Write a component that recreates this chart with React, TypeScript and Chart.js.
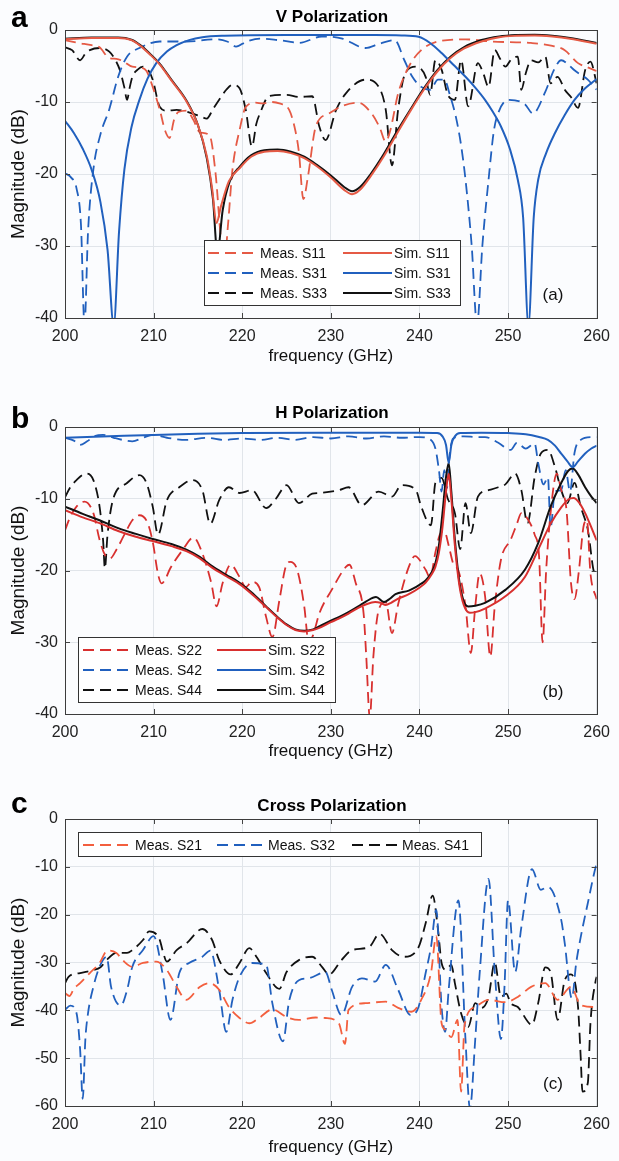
import React, { useEffect, useRef } from 'react';
import { Chart, registerables } from 'chart.js';

Chart.register(...registerables);

type Pt = [number, number];

// ---------- axis ticks ----------
const FREQ_TICKS = [200, 210, 220, 230, 240, 250, 260];
const DB_TICKS_AB = [0, -10, -20, -30, -40];
const DB_TICKS_C = [0, -10, -20, -30, -40, -50, -60];

// ---------- panel a : V polarization ----------
const measS11: Pt[] = [[200,-1.4],[201.5,-1.8],[203,-2.1],[203.9,-2.4],[205,-3.9],[205.8,-4],[206.5,-4.3],[207.6,-5.1],[208.5,-5.2],[209.2,-5.7],[209.9,-7.9],[210.7,-11.1],[211.3,-14],[211.8,-15],[212.3,-12.5],[212.8,-11.4],[213.7,-11.2],[214.5,-12.5],[215.2,-14.2],[216.3,-14.6],[217,-20],[217.6,-29],[218,-32],[218.4,-27],[218.9,-19.4],[219.7,-13.9],[220.4,-10.7],[221.5,-10.1],[222.3,-10.2],[223.3,-10],[224.2,-10.2],[225.3,-11.1],[226,-14],[226.4,-17],[226.9,-23.5],[227.4,-20.5],[228.3,-13.4],[229.8,-11.6],[231.2,-10.6],[233.1,-10.1],[234.6,-11.6],[235.5,-13.5],[236.2,-15.5],[236.7,-14],[237.6,-8.8],[238.8,-5.1],[240.2,-2.8],[242.1,-1.6],[245.2,-1.3],[248.1,-1.6],[252.6,-1.8],[255,-2.2],[256.4,-2.8],[257.9,-4.6],[259,-5.2],[260,-5.7]];
const measS31: Pt[] = [[200,-19.9],[200.7,-20.5],[201.3,-22],[201.8,-27],[202.2,-41],[202.6,-28],[203.2,-19.4],[204,-14.5],[205,-11],[206,-6.5],[207,-3.7],[208.4,-2.5],[210.7,-1.6],[213.7,-1.6],[217,-1.3],[218.3,-1.6],[219.3,-2.3],[220.5,-1.6],[222,-1.2],[224,-1.4],[225.3,-1.6],[226.4,-1.8],[229,-0.9],[231.3,-1.2],[233.9,-2.5],[235.5,-1.9],[237.2,-1.4],[238.3,-4.2],[239.2,-6.5],[240.2,-7.9],[241.2,-8.3],[242.1,-6.9],[242.8,-6.9],[243.5,-9.3],[244.1,-12],[244.7,-16],[245.2,-20.8],[245.9,-30],[246.5,-41],[247.1,-30],[247.8,-20.8],[248.4,-14],[248.9,-11.5],[250,-9.7],[251.9,-10.3],[252.8,-11.6],[254.2,-8.6],[255.2,-5.5],[256,-4.2],[256.8,-4.8],[257.5,-5.6],[259,-6.9],[260,-8.3]];
const measS33: Pt[] = [[200,-2.4],[200.8,-2.8],[201.7,-4.2],[202.3,-3.3],[202.8,-2.8],[203.9,-2.5],[205,-3],[205.7,-4.2],[206.2,-5.6],[206.7,-8],[207,-9.7],[207.3,-8],[207.6,-6.5],[208.2,-5.5],[208.8,-5.1],[209.4,-5.6],[209.9,-6.9],[210.7,-10.7],[211.5,-11.2],[212.6,-11.1],[214.4,-11.6],[215.3,-12],[216,-12.3],[216.7,-11],[217.4,-9.7],[218.2,-8.3],[218.9,-7.6],[219.7,-8.1],[220.4,-11.1],[221.1,-16.2],[221.6,-13],[222,-11.6],[223,-9.2],[225,-9],[226.4,-9.3],[227.9,-9.2],[228.7,-13.4],[229.4,-15.3],[230.6,-11.1],[231.7,-8.8],[233.9,-6.9],[235.4,-7.9],[236.2,-11.1],[236.9,-18.8],[237.6,-11],[238.4,-6],[239.6,-5.1],[240.7,-6.5],[241.2,-9],[241.8,-4.2],[242.5,-5.5],[243.2,-9],[244,-9.7],[244.7,-4.2],[245.5,-10.6],[246.6,-4.6],[247.2,-6],[247.8,-7.9],[248.5,-2.8],[249.1,-4],[249.7,-5.1],[250.4,-4],[251.1,-3.7],[251.5,-8.3],[252,-6],[252.6,-4.2],[253.4,-4.5],[254.2,-3.7],[254.8,-7.4],[255.6,-6.5],[256.4,-8.3],[257.1,-9.3],[257.9,-10.8],[258.7,-5.6],[259.3,-4.4],[260,-7.4]];
const simS11: Pt[] = [[200,-1.3],[203,-1.1],[206,-1.1],[207.5,-1.4],[208.5,-2.2],[209.5,-3.3],[210.7,-4.8],[212,-7],[213.7,-9.9],[215,-13.2],[216,-17.5],[216.6,-22],[217.1,-26.8],[217.6,-24.5],[218.5,-21],[219.7,-19.2],[221,-17.6],[222.5,-16.9],[224,-16.8],[225.5,-17.1],[227,-17.8],[228.5,-19],[230,-20.5],[231.5,-22.2],[232.4,-22.8],[233.3,-22.2],[234.5,-20.3],[236,-17.5],[237.5,-14.3],[239,-11.2],[240.5,-8.3],[242,-5.8],[243.5,-3.9],[245,-2.6],[247,-1.6],[249,-1.0],[251,-0.8],[253,-0.75],[255,-0.9],[257,-1.2],[260,-1.9]];
const simS31: Pt[] = [[200,-12.6],[201,-14.3],[202,-16.5],[203,-19.4],[204,-23.9],[204.8,-30.5],[205.5,-41],[206.1,-28],[206.7,-19.4],[207.5,-13.5],[208.4,-9.7],[209.3,-6.8],[210.3,-4.6],[211.5,-3],[212.6,-2.1],[214,-1.4],[215.5,-1.0],[218,-0.8],[225,-0.7],[235,-0.7],[238,-0.75],[239.9,-0.95],[241.2,-1.8],[242.5,-3.2],[243.8,-4.8],[245.2,-6.5],[246.3,-8],[247.4,-9.7],[248.3,-11.4],[249.2,-13.4],[250.2,-16.5],[251.1,-20.8],[251.7,-26],[252.3,-41],[252.9,-26],[253.4,-20.8],[254.3,-17.1],[255.3,-14.3],[256.4,-11.8],[257.5,-9.7],[258.7,-8.1],[260,-6.8]];
const simS33: Pt[] = [[200,-1.2],[203,-1.05],[206,-1.05],[207.5,-1.35],[208.5,-2.1],[209.5,-3.2],[210.7,-4.7],[212,-6.9],[213.7,-9.8],[215,-13.2],[216,-17.8],[216.7,-23.5],[217.2,-31],[217.8,-25],[218.6,-21],[219.7,-19],[221,-17.4],[222.5,-16.7],[224,-16.6],[225.5,-16.9],[227,-17.6],[228.5,-18.8],[230,-20.2],[231.5,-21.8],[232.4,-22.4],[233.3,-21.8],[234.5,-20],[236,-17.2],[237.5,-14],[239,-11],[240.5,-8.1],[242,-5.6],[243.5,-3.7],[245,-2.4],[247,-1.4],[249,-0.9],[251,-0.7],[253,-0.65],[255,-0.8],[257,-1.1],[260,-1.8]];

// ---------- panel b : H polarization ----------
const measS22: Pt[] = [[200,-14.4],[200.6,-12.5],[201.3,-11.1],[202.2,-10.4],[203.2,-12],[203.9,-15.7],[204.5,-17.8],[205.1,-18.3],[205.8,-17.1],[206.7,-15],[207.6,-13],[208.4,-12.3],[209.3,-13.3],[209.9,-16],[210.5,-20.5],[210.9,-21.8],[211.4,-21],[211.8,-19.9],[213.3,-17.1],[214.5,-15.4],[215.5,-17.6],[216.5,-21.7],[217.1,-25],[217.8,-21.7],[218.7,-19.2],[219.7,-20.9],[220.4,-22.3],[221.1,-21.6],[221.9,-22.3],[222.7,-26.5],[223.4,-29.3],[224.2,-24.1],[224.9,-19.5],[225.4,-18.8],[226.2,-19.9],[227,-25],[227.5,-30],[228,-29],[228.7,-26],[230.1,-22.7],[231.7,-19.5],[232.1,-19.2],[232.8,-21.7],[233.7,-26],[234,-32],[234.4,-40.5],[234.8,-32],[235.4,-25.5],[236.2,-24.4],[236.9,-28.7],[237.6,-24.7],[238.8,-19.5],[239.5,-18],[240.7,-19.9],[241.2,-21],[241.8,-17.5],[242.3,-15],[242.8,-14.5],[243.3,-16.5],[243.8,-19],[244.4,-20],[245.2,-25],[245.8,-31.5],[246.3,-25],[246.8,-20.4],[247.4,-23.5],[248,-32],[248.5,-25],[249.2,-18.5],[250.3,-15.7],[251,-13.5],[251.5,-12],[252.3,-13],[253,-15],[253.5,-18],[253.9,-30],[254.3,-20],[254.8,-12],[255.5,-6.5],[256,-8.8],[256.6,-11.6],[257.1,-21.7],[257.5,-24],[258,-20],[258.5,-14],[258.9,-13],[259.3,-20.4],[260,-24]];
const measS42: Pt[] = [[200,-1.5],[201,-1.9],[201.7,-2.5],[202.5,-2],[203.3,-1.3],[204.3,-1.1],[205.5,-1.5],[206.5,-1.8],[207.6,-2.0],[208.8,-1.5],[209.9,-1.1],[211.5,-1.5],[213.7,-1.8],[216,-1.5],[218,-1.8],[220,-1.6],[222,-1.8],[224,-1.5],[226,-1.8],[228,-1.4],[230,-1.6],[232,-1.3],[234,-1.6],[236,-1.3],[238,-1.5],[240,-1.4],[241.3,-1.8],[241.8,-3],[242.2,-6],[242.5,-9],[242.8,-6],[243.1,-8.5],[243.4,-4],[243.8,-1.6],[245,-1.3],[246.5,-1.4],[247.4,-1.4],[248.9,-2.2],[250.3,-3.2],[251,-2.2],[252,-3],[253,-2.3],[253.4,-5],[254,-8],[254.5,-7],[254.8,-14],[255.3,-9],[256,-8.8],[256.5,-6],[257,-9],[257.5,-3.6],[258.2,-1.8],[259.3,-1.4],[260,-1.4]];
const measS44: Pt[] = [[200,-9.8],[200.5,-8.6],[201.3,-7.4],[202.4,-6.5],[203.2,-7.4],[203.9,-11.1],[204.3,-15.8],[204.5,-19.7],[204.8,-15],[205.4,-10.2],[207,-7.8],[208.4,-6.7],[209.2,-7.8],[209.9,-11.1],[210.5,-15],[211.5,-10.2],[212.9,-8.4],[214.4,-7.4],[215.5,-8.8],[216.4,-13.5],[217.4,-10.2],[218.5,-8.4],[219.7,-9.2],[221.1,-8.8],[222.7,-11.3],[223.8,-10],[225,-8.1],[226.4,-10.6],[227.9,-9.3],[228.7,-9.2],[230.9,-8.8],[232,-8.4],[233.5,-10.9],[235.4,-9],[236.9,-9.7],[238,-8.1],[239.6,-8.8],[240.2,-11.1],[241.3,-13.7],[241.8,-7.8],[242.5,-7.1],[243.2,-10],[244,-12],[244.6,-17],[245.2,-10.6],[245.8,-14.8],[246.6,-9.7],[247.8,-8.8],[248.9,-8.4],[249.7,-8],[250.8,-6.5],[251.5,-8.8],[252.2,-13.4],[253,-7],[253.7,-3.7],[254.5,-3.2],[255.3,-5.6],[256,-8.8],[256.7,-10.6],[257.5,-7.8],[258.2,-11.1],[259,-14.3],[259.8,-20.4],[260,-20]];
const simS22: Pt[] = [[200,-11.6],[202,-12.6],[203.9,-13.4],[206,-14.5],[208,-15.3],[209.9,-15.9],[212,-16.6],[213.7,-17.3],[215.2,-18.3],[216.6,-19.6],[218.2,-20.8],[219.7,-21.9],[221.2,-23.4],[222.7,-25.1],[224,-26.6],[225,-27.6],[226,-28.3],[227,-28.5],[228,-28.3],[228.7,-28],[230,-27.2],[230.9,-26.7],[232,-26],[233.1,-25.2],[234,-24.7],[235,-24.4],[235.6,-24.5],[236.2,-24.8],[236.8,-24.5],[237.5,-24],[238.8,-23.3],[240,-22.4],[240.7,-21.7],[241.4,-20.5],[241.8,-19.5],[242.2,-17.5],[242.6,-14],[243,-9],[243.3,-6.5],[243.6,-10],[244,-16.5],[244.5,-22],[245,-24.8],[245.7,-25.9],[246.3,-25.8],[247.4,-25.3],[249.7,-23.6],[251.9,-20.9],[253.4,-17.1],[254.8,-13.5],[256,-11.2],[256.8,-10.1],[257.4,-9.9],[258,-10.5],[258.7,-12],[259.4,-14],[260,-15.8]];
const simS42: Pt[] = [[200,-1.5],[205,-1.3],[210,-1.1],[215,-0.95],[220,-0.85],[230,-0.8],[240,-0.8],[242,-0.85],[242.6,-1.3],[243,-2.5],[243.3,-5],[243.6,-2.5],[244,-1.3],[244.6,-0.85],[247,-0.8],[250,-0.85],[252,-1],[253.5,-1.4],[254.5,-1.8],[255.3,-2.6],[256,-3.7],[256.7,-4.8],[257.3,-5.6],[257.9,-4.8],[258.7,-3.7],[259.4,-3],[260,-2.6]];
const simS44: Pt[] = [[200,-11.1],[202,-12.1],[203.9,-13],[206,-14.1],[208,-14.9],[209.9,-15.6],[212,-16.3],[213.7,-17.1],[215.2,-18.1],[216.6,-19.4],[218.2,-20.6],[219.7,-21.7],[221.2,-23.2],[222.7,-25],[224,-26.5],[225,-27.5],[226,-28.2],[227,-28.4],[228,-28.2],[228.7,-27.8],[230,-27],[230.9,-26.5],[232,-25.8],[233.1,-25],[234,-24.3],[235.1,-23.7],[236,-24.4],[236.7,-23.9],[237.3,-23.3],[238.8,-22.8],[240,-22],[240.7,-21.4],[241.4,-20.2],[241.8,-19],[242.2,-16.5],[242.6,-12],[243,-7],[243.3,-5],[243.6,-9],[244,-15.7],[244.5,-21.5],[245,-24.3],[245.5,-25],[246.3,-24.9],[247.4,-24.5],[249.7,-22.7],[251.9,-19.9],[253.4,-16.2],[254.8,-11.1],[256,-7.8],[256.8,-6.1],[257.3,-5.8],[257.9,-6.6],[258.7,-8.4],[259.4,-9.7],[260,-10.6]];

// ---------- panel c : cross polarization ----------
const measS21: Pt[] = [[200,-36.4],[200.5,-37],[201,-35.5],[201.7,-34.3],[202.8,-32.2],[203.9,-30.1],[204.8,-27.5],[205.8,-28],[206.5,-29.5],[207.6,-30.9],[208.8,-30.1],[210.3,-29.8],[211.5,-31.6],[212.6,-35.1],[213.7,-37.8],[215.2,-35.1],[216.3,-34.3],[217.4,-35.7],[218.5,-39.3],[219.7,-41.6],[220.8,-42.7],[221.9,-41.6],[223.4,-39.8],[225,-41.4],[226.4,-42],[228.3,-41.5],[229.4,-41.6],[230.9,-42.7],[231.6,-47],[232,-39.9],[233.9,-38.5],[236.2,-38.2],[237.6,-39.5],[239.1,-40.3],[240.2,-37.8],[241.3,-32.2],[241.9,-24.5],[242.5,-42.7],[242.9,-44],[243.6,-45.6],[244.3,-42],[244.7,-57],[245.1,-43],[246.3,-39.3],[247.8,-37.8],[249.7,-38.3],[251.1,-37.2],[252.6,-35.1],[254.2,-34.3],[255.6,-37.8],[257.1,-35.1],[258.2,-38.9],[259.8,-39.3],[260,-39]];
const measS32: Pt[] = [[200,-39.9],[200.6,-39],[201.3,-40.6],[201.7,-48],[202,-58.5],[202.3,-46],[202.6,-40.6],[203.2,-35.1],[203.9,-30.9],[204.7,-28.8],[205.2,-35.1],[206.3,-39],[207,-35.8],[207.6,-30.9],[208.8,-27.4],[210,-24.5],[211,-32.2],[211.9,-42],[212.9,-32.2],[214,-30.1],[215.5,-28.8],[216.4,-27.5],[217.4,-35.7],[218.2,-44.5],[218.9,-37.8],[219.7,-33],[221.1,-30.1],[222.7,-30.5],[223.4,-38.5],[224.6,-46.5],[225.3,-38],[226.4,-33.7],[227.5,-33.3],[229.4,-32],[230.1,-35.7],[231.2,-41],[232.4,-35.1],[233.5,-33.3],[235,-34],[236.2,-30.5],[237.6,-35.7],[239,-41],[239.9,-39.3],[240.7,-32.2],[241.3,-26.8],[241.9,-19],[242.5,-39.3],[242.9,-44.5],[243.3,-35.7],[244.4,-17],[245.2,-46.2],[245.7,-60.5],[246.3,-46],[246.8,-32.2],[247.8,-12.5],[248.5,-32],[249.2,-46],[249.6,-35],[250,-17],[250.8,-32],[251.5,-22.6],[252.7,-10.5],[253.7,-14.8],[254.5,-14.2],[256,-21.1],[256.4,-26],[257.2,-37.5],[257.7,-30],[258.2,-24.7],[259,-17.6],[259.9,-10],[260,-9.5]];
const measS41: Pt[] = [[200,-34.3],[200.4,-33],[201.7,-32.2],[203.2,-31.6],[204,-31],[204.7,-29.5],[205.8,-28],[207,-28],[207.6,-27.4],[208.8,-25.3],[209.5,-23.5],[210.7,-25.3],[211,-27.4],[211.5,-29.8],[212.6,-27.4],[213.7,-26],[215.5,-23],[216.6,-25.3],[217.4,-29.5],[218.7,-32.5],[219.7,-30.1],[220.8,-27],[221.6,-28.8],[222.7,-32.2],[224.2,-35.5],[225,-32],[226.4,-29.5],[227.9,-28.8],[229,-30.9],[229.8,-32.5],[231.2,-29.5],[232.4,-27.4],[234.3,-26.8],[235.5,-24],[236.9,-27.4],[238.2,-28.8],[239.9,-26.8],[240.7,-21.8],[241.5,-16],[242.1,-23.2],[242.5,-30.1],[243,-31.5],[243.6,-30.5],[244,-34.3],[244.7,-40.6],[245.5,-43.5],[246.3,-38.5],[247,-39.5],[247.8,-37.2],[248.5,-30],[249.2,-37.2],[249.8,-36.5],[250.3,-38.5],[251.1,-39.3],[252.7,-43],[253.4,-38.5],[254.2,-31],[254.8,-32],[255.6,-42],[256.4,-33.7],[257.1,-32.5],[257.9,-39.3],[258.2,-49.8],[258.4,-57],[259,-55.2],[259.3,-42.7],[259.9,-33.7],[260,-33]];

// ---------- styling ----------
const FONT = '"Liberation Sans", Arial, Helvetica, sans-serif';
const RED_A = '#e55a45';
const RED_B = '#d8302f';
const RED_C = '#f35f3e';
const BLUE = '#2160be';
const BLACK = '#111111';
const DASH = [11, 6];

interface SeriesSpec { label: string; data: Pt[]; color: string; dashed: boolean }
interface LegendItem { ds: number; x0: number; x1: number; y: number }
interface PanelSpec {
  canvasTop: number; canvasHeight: number; plotTop: number; plotBottom: number;
  yMin: number; yTicks: number[];
  letter: string; letterY: number; title: string; titleY: number;
  tag: string; tagY: number; xTitlePad: number;
  series: SeriesSpec[];
  legendBox: [number, number, number, number];
  legendItems: LegendItem[];
}

const PLOT_LEFT = 65;
const PLOT_RIGHT = 599;
const W = 619;

const panels: PanelSpec[] = [
  {
    canvasTop: 0, canvasHeight: 380, plotTop: 30, plotBottom: 318, yMin: -40, yTicks: DB_TICKS_AB,
    letter: 'a', letterY: 27, title: 'V Polarization', titleY: 22, tag: '(a)', tagY: 295, xTitlePad: 13,
    series: [
      { label: 'Meas. S11', data: measS11, color: RED_A, dashed: true },
      { label: 'Meas. S31', data: measS31, color: BLUE, dashed: true },
      { label: 'Meas. S33', data: measS33, color: BLACK, dashed: true },
      { label: 'Sim. S11', data: simS11, color: RED_A, dashed: false },
      { label: 'Sim. S31', data: simS31, color: BLUE, dashed: false },
      { label: 'Sim. S33', data: simS33, color: BLACK, dashed: false },
    ],
    legendBox: [204, 240, 256, 65],
    legendItems: [
      { ds: 0, x0: 208, x1: 258, y: 253 }, { ds: 1, x0: 208, x1: 258, y: 273 }, { ds: 2, x0: 208, x1: 258, y: 293 },
      { ds: 3, x0: 343, x1: 392, y: 253 }, { ds: 4, x0: 343, x1: 392, y: 273 }, { ds: 5, x0: 343, x1: 392, y: 293 },
    ],
  },
  {
    canvasTop: 385, canvasHeight: 385, plotTop: 427, plotBottom: 714, yMin: -40, yTicks: DB_TICKS_AB,
    letter: 'b', letterY: 428, title: 'H Polarization', titleY: 418, tag: '(b)', tagY: 692, xTitlePad: 8,
    series: [
      { label: 'Meas. S22', data: measS22, color: RED_B, dashed: true },
      { label: 'Meas. S42', data: measS42, color: BLUE, dashed: true },
      { label: 'Meas. S44', data: measS44, color: BLACK, dashed: true },
      { label: 'Sim. S22', data: simS22, color: RED_B, dashed: false },
      { label: 'Sim. S42', data: simS42, color: BLUE, dashed: false },
      { label: 'Sim. S44', data: simS44, color: BLACK, dashed: false },
    ],
    legendBox: [78, 637, 257, 65],
    legendItems: [
      { ds: 0, x0: 83, x1: 133, y: 650 }, { ds: 1, x0: 83, x1: 133, y: 670 }, { ds: 2, x0: 83, x1: 133, y: 690 },
      { ds: 3, x0: 217, x1: 266, y: 650 }, { ds: 4, x0: 217, x1: 266, y: 670 }, { ds: 5, x0: 217, x1: 266, y: 690 },
    ],
  },
  {
    canvasTop: 770, canvasHeight: 391, plotTop: 819, plotBottom: 1106, yMin: -60, yTicks: DB_TICKS_C,
    letter: 'c', letterY: 813, title: 'Cross Polarization', titleY: 811, tag: '(c)', tagY: 1084, xTitlePad: 3,
    series: [
      { label: 'Meas. S21', data: measS21, color: RED_C, dashed: true },
      { label: 'Meas. S32', data: measS32, color: BLUE, dashed: true },
      { label: 'Meas. S41', data: measS41, color: BLACK, dashed: true },
    ],
    legendBox: [78, 832, 403, 24],
    legendItems: [
      { ds: 0, x0: 83, x1: 133, y: 845 }, { ds: 1, x0: 217, x1: 266, y: 845 }, { ds: 2, x0: 352, x1: 400, y: 845 },
    ],
  },
];

function makeDecor(spec: PanelSpec) {
  const off = spec.canvasTop;
  return {
    id: 'decor',
    afterDatasetsDraw(chart: any) {
      const ctx: CanvasRenderingContext2D = chart.ctx;
      const ca = chart.chartArea;
      const xs = chart.scales.x;
      const ys = chart.scales.y;
      ctx.save();
      // inward tick marks on all four sides
      ctx.strokeStyle = '#444';
      ctx.lineWidth = 1;
      ctx.setLineDash([]);
      ctx.beginPath();
      FREQ_TICKS.forEach((v) => {
        const px = Math.round(xs.getPixelForValue(v)) + 0.5;
        ctx.moveTo(px, ca.bottom); ctx.lineTo(px, ca.bottom - 5);
        ctx.moveTo(px, ca.top); ctx.lineTo(px, ca.top + 5);
      });
      spec.yTicks.forEach((v) => {
        const py = Math.round(ys.getPixelForValue(v)) + 0.5;
        ctx.moveTo(ca.left, py); ctx.lineTo(ca.left + 5, py);
        ctx.moveTo(ca.right, py); ctx.lineTo(ca.right - 5, py);
      });
      ctx.stroke();
      ctx.strokeStyle = '#3c3c3c';
      ctx.strokeRect(Math.round(ca.left) + 0.5, Math.round(ca.top) + 0.5, Math.round(ca.right - ca.left), Math.round(ca.bottom - ca.top));

      // legend
      const [bx, by, bw, bh] = spec.legendBox;
      ctx.fillStyle = '#ffffff';
      ctx.fillRect(bx, by - off, bw, bh);
      ctx.strokeStyle = '#333';
      ctx.lineWidth = 1;
      ctx.strokeRect(bx + 0.5, by - off + 0.5, bw, bh);
      spec.legendItems.forEach((it) => {
        const ds = chart.data.datasets[it.ds];
        ctx.strokeStyle = ds.borderColor;
        ctx.lineWidth = ds.borderWidth;
        ctx.setLineDash(ds.borderDash || []);
        ctx.beginPath();
        ctx.moveTo(it.x0, it.y - off);
        ctx.lineTo(it.x1, it.y - off);
        ctx.stroke();
        ctx.setLineDash([]);
        ctx.fillStyle = '#111';
        ctx.font = `14px ${FONT}`;
        ctx.textAlign = 'left';
        ctx.textBaseline = 'middle';
        ctx.fillText(ds.label, it.x1 + 2, it.y - off + 1);
      });

      // panel tag
      ctx.fillStyle = '#111';
      ctx.font = `17px ${FONT}`;
      ctx.textAlign = 'center';
      ctx.textBaseline = 'middle';
      ctx.fillText(spec.tag, 553, spec.tagY - off);
      ctx.restore();
    },
    afterDraw(chart: any) {
      const ctx: CanvasRenderingContext2D = chart.ctx;
      ctx.save();
      ctx.fillStyle = '#000';
      ctx.textBaseline = 'alphabetic';
      ctx.textAlign = 'left';
      ctx.font = `bold 30px ${FONT}`;
      ctx.fillText(spec.letter, 11, spec.letterY - off);
      ctx.textAlign = 'center';
      ctx.font = `bold 17px ${FONT}`;
      ctx.fillText(spec.title, (PLOT_LEFT + PLOT_RIGHT) / 2, spec.titleY - off);
      ctx.restore();
    },
  };
}

function buildConfig(spec: PanelSpec): any {
  const datasets = spec.series.map((s, i) => ({
    label: s.label,
    data: s.data.map(([x, y]) => ({ x, y })),
    borderColor: s.color,
    backgroundColor: s.color,
    borderWidth: s.dashed ? 1.8 : 2,
    borderDash: s.dashed ? DASH : [],
    pointRadius: 0,
    fill: false,
    cubicInterpolationMode: 'monotone',
    order: s.dashed ? 10 + i : i,
  }));
  const plotTop = spec.plotTop - spec.canvasTop;
  const plotBottom = spec.plotBottom - spec.canvasTop;
  const xAxisH = spec.canvasHeight - plotBottom;
  return {
    type: 'line',
    data: { datasets },
    plugins: [makeDecor(spec)],
    options: {
      responsive: false,
      animation: false,
      devicePixelRatio: 1,
      layout: { padding: { top: plotTop, right: W - PLOT_RIGHT, bottom: 0, left: 0 } },
      plugins: { legend: { display: false }, tooltip: { enabled: false }, title: { display: false } },
      elements: { line: { tension: 0 } },
      scales: {
        x: {
          type: 'linear', min: 200, max: 260,
          afterBuildTicks: (s: any) => { s.ticks = FREQ_TICKS.map((v) => ({ value: v })); },
          afterFit: (s: any) => { s.height = xAxisH; },
          ticks: { font: { size: 16, family: FONT }, color: '#222', padding: 9, maxRotation: 0, autoSkip: false },
          grid: { color: '#e1e5ea', drawTicks: false, lineWidth: 1 },
          border: { display: false },
          title: { display: true, text: 'frequency (GHz)', font: { size: 17, family: FONT }, color: '#111', padding: { top: 0, bottom: spec.xTitlePad } },
        },
        y: {
          type: 'linear', min: spec.yMin, max: 0,
          afterBuildTicks: (s: any) => { s.ticks = spec.yTicks.map((v) => ({ value: v })); },
          afterFit: (s: any) => { s.width = PLOT_LEFT; },
          ticks: { font: { size: 16, family: FONT }, color: '#222', padding: 7, autoSkip: false },
          grid: { color: '#e1e5ea', drawTicks: false, lineWidth: 1 },
          border: { display: false },
          title: { display: true, text: 'Magnitude (dB)', font: { size: 19, family: FONT }, color: '#111', padding: { top: 7, bottom: 0 } },
        },
      },
    },
  };
}

function Panel({ spec }: { spec: PanelSpec }) {
  const ref = useRef<HTMLCanvasElement>(null);
  useEffect(() => {
    if (!ref.current) return;
    const chart = new Chart(ref.current, buildConfig(spec));
    return () => chart.destroy();
  }, [spec]);
  return (
    <canvas
      ref={ref}
      width={W}
      height={spec.canvasHeight}
      style={{ position: 'absolute', left: 0, top: spec.canvasTop, width: W, height: spec.canvasHeight }}
    />
  );
}

export default function App() {
  return (
    <div style={{ position: 'absolute', left: 0, top: 0, width: W, height: 1161, background: '#fbfcfe', overflow: 'hidden' }}>
      {panels.map((p) => (
        <Panel key={p.letter} spec={p} />
      ))}
    </div>
  );
}
